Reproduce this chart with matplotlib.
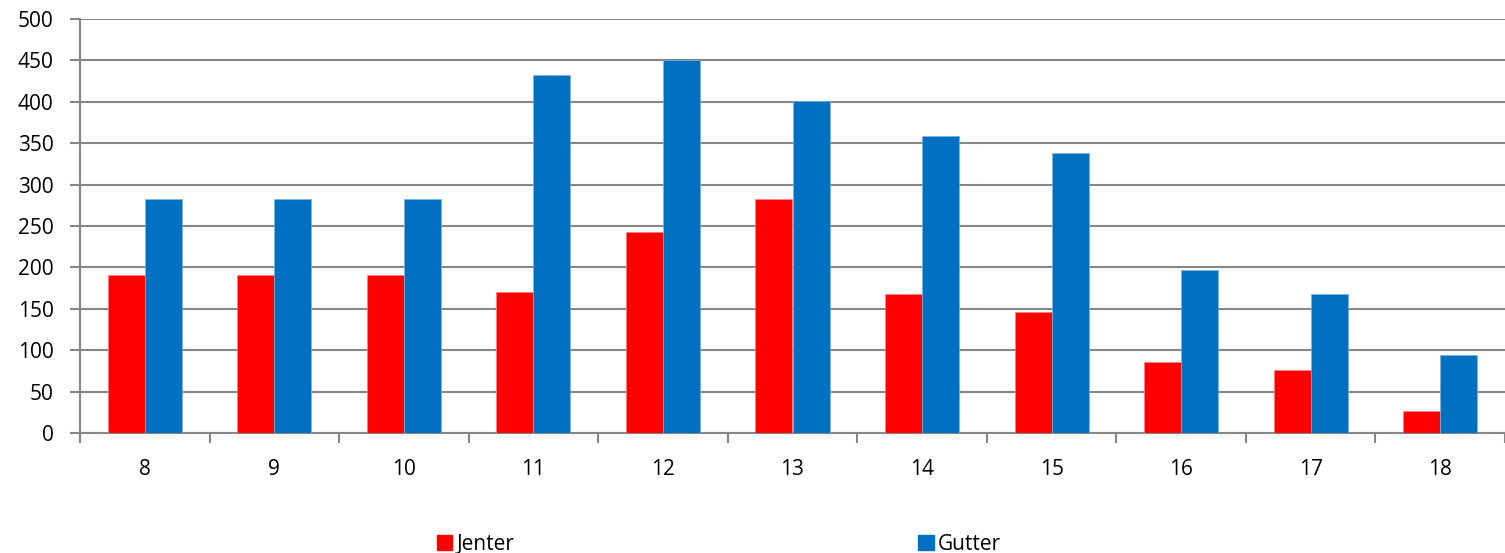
import numpy as np
import matplotlib
matplotlib.use('Agg')
import matplotlib.pyplot as plt
from matplotlib.patches import Patch

# Values
ages = ['8', '9', '10', '11', '12', '13', '14', '15', '16', '17', '18']
jenter = [191, 191, 191, 170, 243, 283, 168, 146, 86, 76, 27]
gutter = [283, 283, 283, 432, 450, 401, 359, 338, 197, 168, 94]
y_ticks = [0, 50, 100, 150, 200, 250, 300, 350, 400, 450, 500]

red = '#FF0000'
blue = '#0070C0'
grey = '#868686'

plt.rcParams['font.family'] = ['Open Sans', 'DejaVu Sans']

fig = plt.figure(figsize=(15.05, 5.53), dpi=100)
ax = fig.add_axes([80 / 1505, 1 - 433 / 553, 1425 / 1505, 414 / 553])

x = np.arange(len(ages))
w = 1 / 3.5
ax.bar(x - w / 2, jenter, width=w, color=red, edgecolor='#FF8080', linewidth=0.5, zorder=3)
ax.bar(x + w / 2, gutter, width=w, color=blue, edgecolor='#80B0E0', linewidth=0.5, zorder=3)

ax.set_xlim(-0.5, len(ages) - 0.5)
ax.set_ylim(0, 500)
ax.set_yticks(y_ticks)
ax.set_xticks(x)
ax.set_xticklabels(ages)
ax.set_xticks(np.arange(-0.5, len(ages)), minor=True)

ax.yaxis.grid(True, color=grey, linewidth=1.5, zorder=0)
ax.set_axisbelow(True)
for s in ['top', 'right']:
    ax.spines[s].set_visible(False)
for s in ['left', 'bottom']:
    ax.spines[s].set_color(grey)
    ax.spines[s].set_linewidth(1.5)

ax.tick_params(axis='y', length=7, width=1.5, color=grey, pad=12, labelsize=15)
ax.tick_params(axis='x', which='major', length=0, pad=19, labelsize=15)
ax.tick_params(axis='x', which='minor', length=7, width=1.5, color=grey)

handles = [Patch(color=red, label='Jenter'), Patch(color=blue, label='Gutter')]
fig.legend(handles=handles, ncol=2, loc='center', bbox_to_anchor=(719 / 1505, 1 - 544 / 553),
           frameon=False, fontsize=15, handlelength=0.75, handleheight=0.75,
           handletextpad=0.2, columnspacing=19.4, borderpad=0)

fig.savefig('out.png', dpi=100)
